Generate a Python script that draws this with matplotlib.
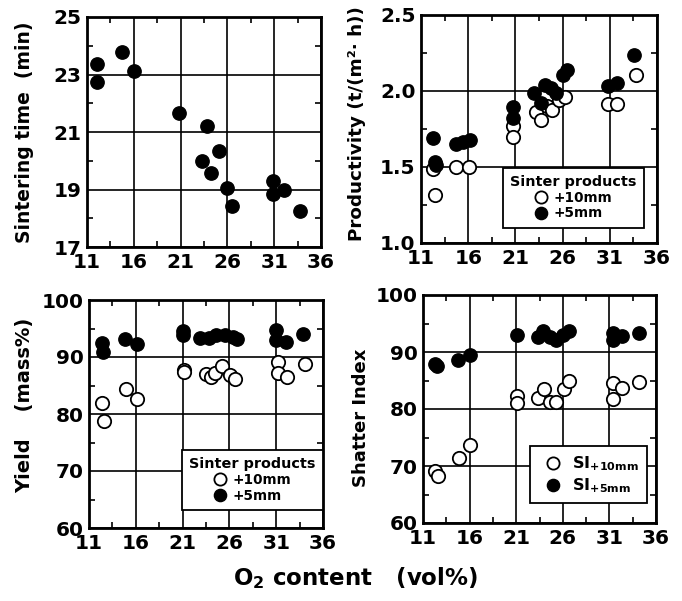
import matplotlib
matplotlib.use("Agg")
import matplotlib.pyplot as plt
from matplotlib.ticker import FixedLocator
from matplotlib.lines import Line2D

plt.rcParams['font.family'] = ['DejaVu Sans']
plt.rcParams['font.weight'] = 'bold'
plt.rcParams['mathtext.fontset'] = 'custom'
plt.rcParams['mathtext.rm'] = 'DejaVu Sans:bold'
plt.rcParams['mathtext.bf'] = 'DejaVu Sans:bold'

# ---- data ----
st_x = [12.1, 12.1, 14.7, 16.0, 20.8, 23.8, 23.3, 24.3, 25.1, 26.0, 26.5, 30.9, 30.9, 32.0, 33.8]
st_y = [22.75, 23.35, 23.8, 23.13, 21.67, 21.22, 19.98, 19.58, 20.34, 19.04, 18.43, 19.3, 18.83, 18.98, 18.26]

pr_x5 = [12.24, 12.5, 12.6, 14.7, 15.5, 16.2, 20.7, 20.7, 23.0, 23.7, 24.1, 24.8, 25.3, 26.0, 26.5, 30.8, 31.8, 33.6]
pr_y5 = [1.689, 1.53, 1.51, 1.65, 1.665, 1.68, 1.897, 1.82, 1.985, 1.92, 2.04, 2.02, 1.985, 2.105, 2.14, 2.03, 2.05, 2.24]
pr_x10 = [12.24, 12.5, 14.7, 16.1, 20.7, 20.7, 23.2, 23.7, 24.4, 24.9, 25.6, 26.3, 30.8, 31.8, 33.8]
pr_y10 = [1.49, 1.316, 1.50, 1.50, 1.77, 1.695, 1.864, 1.81, 1.90, 1.875, 1.94, 1.96, 1.915, 1.915, 2.105]

yd_x5 = [12.36, 12.5, 14.85, 16.1, 21.0, 21.0, 22.9, 23.8, 24.6, 25.5, 26.4, 26.8, 31.0, 31.0, 32.1, 33.9]
yd_y5 = [92.4, 90.9, 93.1, 92.3, 94.6, 93.9, 93.4, 93.3, 93.9, 93.9, 93.5, 93.1, 94.7, 92.9, 92.7, 94.0]
yd_x10 = [12.36, 12.6, 14.9, 16.1, 21.1, 21.1, 23.5, 24.0, 24.5, 25.2, 26.1, 26.6, 31.2, 31.2, 32.2, 34.1]
yd_y10 = [81.9, 78.8, 84.4, 82.6, 87.8, 87.4, 87.0, 86.5, 87.2, 88.4, 86.8, 86.1, 89.2, 87.2, 86.5, 88.8]

si_x5 = [12.25, 12.5, 14.75, 16.0, 21.1, 23.3, 23.9, 24.6, 25.3, 26.0, 26.7, 31.4, 31.4, 32.4, 34.2]
si_y5 = [87.9, 87.6, 88.6, 89.5, 93.0, 92.7, 93.6, 92.7, 92.1, 93.0, 93.6, 93.3, 92.1, 92.8, 93.3]
si_x10 = [12.3, 12.6, 14.9, 16.07, 21.07, 21.07, 23.3, 24.0, 24.6, 25.3, 26.1, 26.7, 31.4, 31.4, 32.4, 34.2]
si_y10 = [69.1, 68.3, 71.4, 73.7, 82.3, 81.1, 81.9, 83.5, 81.3, 81.3, 83.5, 85.0, 84.6, 81.7, 83.7, 84.8]

x_ticks = [11, 16, 21, 26, 31, 36]
x_minor = [13.5, 18.5, 23.5, 28.5, 33.5]
st_ticks = [17, 19, 21, 23, 25]
st_minor = [18, 20, 22, 24]
pr_ticks = [1.0, 1.5, 2.0, 2.5]
pr_minor = [1.25, 1.75, 2.25]
pct_ticks = [60, 70, 80, 90, 100]
pct_minor = [65, 75, 85, 95]

fig = plt.figure(figsize=(6.82, 6.01), dpi=100)
ax1 = fig.add_axes([87/682, 1-247/601, 234/682, 230/601])
ax2 = fig.add_axes([421/682, 1-243/601, 236/682, 228/601])
ax3 = fig.add_axes([89/682, 1-528/601, 234/682, 228/601])
ax4 = fig.add_axes([423/682, 1-523/601, 233/682, 228/601])

MS = 9.6
MEW = 1.3
TICK_FS = 14.5
LAB_FS = 13.5

def style(ax, yticks, yminor, yfmt):
    ax.set_xlim(x_ticks[0], x_ticks[-1])
    ax.set_ylim(yticks[0], yticks[-1])
    ax.set_xticks(x_ticks)
    ax.xaxis.set_minor_locator(FixedLocator(x_minor))
    ax.set_yticks(yticks)
    ax.set_yticklabels([yfmt.format(v) for v in yticks])
    ax.yaxis.set_minor_locator(FixedLocator(yminor))
    ax.grid(True, which='major', color='black', linewidth=1.2)
    ax.set_axisbelow(True)
    ax.tick_params(which='both', direction='in', top=True, right=True, labelsize=TICK_FS, width=1.2)
    ax.tick_params(which='major', length=0, pad=4)
    ax.tick_params(which='minor', length=4)
    for s in ax.spines.values():
        s.set_linewidth(2.0)
    for lab in ax.get_xticklabels() + ax.get_yticklabels():
        lab.set_fontweight('bold')

style(ax1, st_ticks, st_minor, '{:.0f}')
ax1.plot(st_x, st_y, 'o', color='black', ms=MS, zorder=3)
ax1.set_ylabel('Sintering time  (min)', fontsize=LAB_FS, fontweight='bold')
ax1.yaxis.set_label_coords(-0.225, 0.5)

style(ax2, pr_ticks, pr_minor, '{:.1f}')
ax2.plot(pr_x10, pr_y10, 'o', mfc='white', mec='black', mew=MEW, ms=MS, zorder=3)
ax2.plot(pr_x5, pr_y5, 'o', color='black', ms=MS, zorder=4)
ax2.set_ylabel('Productivity (t/(m\u00b2\u00b7 h))', fontsize=13.2, fontweight='bold')
ax2.yaxis.set_label_coords(-0.235, 0.525)

style(ax3, pct_ticks, pct_minor, '{:.0f}')
ax3.plot(yd_x10, yd_y10, 'o', mfc='white', mec='black', mew=MEW, ms=MS, zorder=3)
ax3.plot(yd_x5, yd_y5, 'o', color='black', ms=MS, zorder=4)
ax3.set_ylabel('Yield    (mass%)', fontsize=14, fontweight='bold')
ax3.yaxis.set_label_coords(-0.235, 0.54)

style(ax4, pct_ticks, pct_minor, '{:.0f}')
ax4.plot(si_x10, si_y10, 'o', mfc='white', mec='black', mew=MEW, ms=MS, zorder=3)
ax4.plot(si_x5, si_y5, 'o', color='black', ms=MS, zorder=4)
ax4.set_ylabel('Shatter Index', fontsize=13, fontweight='bold')
ax4.yaxis.set_label_coords(-0.228, 0.46)

def handles(l10, l5, ms=MS):
    h10 = Line2D([], [], ls='none', marker='o', mfc='white', mec='black', mew=MEW, ms=ms, label=l10)
    h5 = Line2D([], [], ls='none', marker='o', color='black', ms=ms, label=l5)
    return [h10, h5]

def legend(ax, hs, title, anchor):
    lg = ax.legend(handles=hs, title=title, loc='lower right', bbox_to_anchor=anchor,
                   fancybox=False, framealpha=1, edgecolor='black', fontsize=9.8,
                   title_fontsize=10.4, handletextpad=0.45, borderpad=0.55,
                   labelspacing=0.12, handlelength=1.0, borderaxespad=0)
    lg.get_frame().set_linewidth(1.3)
    lg.set_zorder(10)
    lg.get_title().set_fontweight('bold')
    for t in lg.get_texts():
        t.set_fontweight('bold')
    return lg

legend(ax2, handles('+10mm', '+5mm', 8.8), 'Sinter products', (0.945, 0.066))
legend(ax3, handles('+10mm', '+5mm', 8.8), 'Sinter products', (1.0, 0.079))
lg4 = ax4.legend(handles=handles(r'SI$_{\mathrm{+10mm}}$', r'SI$_{\mathrm{+5mm}}$', 8.8),
                 loc='lower right', bbox_to_anchor=(0.96, 0.088),
                 fancybox=False, framealpha=1, edgecolor='black', fontsize=11.5,
                 handletextpad=0.3, borderpad=0.5, labelspacing=0.2,
                 handlelength=1.8, borderaxespad=0)
lg4.get_frame().set_linewidth(1.3)
lg4.set_zorder(10)

fig.text(355/682, 1-578/601, r'O$_{2}$ content   (vol%)', ha='center', va='center', fontsize=16.5, fontweight='bold')

fig.savefig('out.png', dpi=100)
